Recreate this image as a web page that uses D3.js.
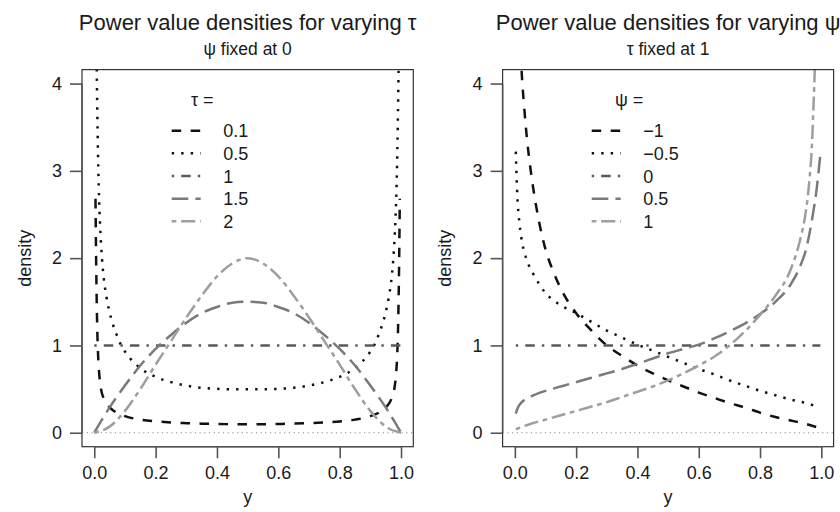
<!DOCTYPE html>
<html><head><meta charset="utf-8">
<script src="https://cdn.jsdelivr.net/npm/d3@7"></script>
<style>
body{margin:0;background:#fff}
svg{display:block}
text{font-family:"Liberation Sans",Arial,Helvetica,sans-serif;fill:#1a1a1a}
</style>
</head><body>
<svg id="c" width="840" height="512"></svg>
<script>
// ---------- data ----------
const xTicks = [0, 0.2, 0.4, 0.6, 0.8, 1.0];
const yTicks = [0, 1, 2, 3, 4];
const tauLabels = ["0.1", "0.5", "1", "1.5", "2"];
const psiLabels = ["\u22121", "\u22120.5", "0", "0.5", "1"];

// left panel: psi = 0, varying tau  ([y, density])
const tau01 = [[0.004,2.68],[0.006,2.0],[0.008,1.5],[0.01,1.15],[0.013,0.85],[0.017,0.64],[0.022,0.5],[0.03,0.4],[0.04,0.33],[0.05,0.29],[0.07,0.235],[0.1,0.19],[0.15,0.15],[0.2,0.13],[0.25,0.118],[0.3,0.11],[0.35,0.104],[0.4,0.1],[0.45,0.098],[0.5,0.097],[0.55,0.098],[0.6,0.1],[0.65,0.104],[0.7,0.11],[0.75,0.118],[0.8,0.13],[0.85,0.15],[0.9,0.19],[0.93,0.235],[0.95,0.29],[0.96,0.33],[0.97,0.4],[0.978,0.5],[0.983,0.64],[0.987,0.85],[0.99,1.15],[0.992,1.5],[0.994,2.0],[0.996,2.68]];
const tau05 = [[0.006,4.6],[0.008,4.15],[0.01,3.65],[0.013,3.05],[0.016,2.65],[0.02,2.3],[0.025,2.0],[0.03,1.8],[0.04,1.55],[0.05,1.38],[0.06,1.25],[0.07,1.15],[0.085,1.02],[0.1,0.93],[0.125,0.82],[0.15,0.74],[0.2,0.64],[0.25,0.58],[0.3,0.54],[0.35,0.515],[0.4,0.503],[0.45,0.498],[0.5,0.497],[0.55,0.498],[0.6,0.503],[0.65,0.515],[0.7,0.54],[0.75,0.58],[0.8,0.64],[0.85,0.74],[0.875,0.82],[0.9,0.93],[0.915,1.02],[0.93,1.15],[0.94,1.25],[0.95,1.38],[0.96,1.55],[0.97,1.8],[0.975,2.0],[0.98,2.3],[0.984,2.65],[0.987,3.05],[0.99,3.65],[0.992,4.15],[0.994,4.6]];
const tau1 = [[0,1],[1,1]];
const tau15 = [[0,0],[0.05,0.29],[0.1,0.54],[0.15,0.77],[0.2,0.96],[0.25,1.12],[0.3,1.26],[0.35,1.37],[0.4,1.44],[0.45,1.49],[0.5,1.5],[0.55,1.49],[0.6,1.44],[0.65,1.37],[0.7,1.26],[0.75,1.12],[0.8,0.96],[0.85,0.77],[0.9,0.54],[0.95,0.29],[1,0]];
const tau2 = [[0,0],[0.05,0.07],[0.1,0.25],[0.15,0.5],[0.2,0.78],[0.25,1.05],[0.3,1.32],[0.35,1.57],[0.4,1.79],[0.45,1.94],[0.5,2.0],[0.55,1.94],[0.6,1.79],[0.65,1.57],[0.7,1.32],[0.75,1.05],[0.8,0.78],[0.85,0.5],[0.9,0.25],[0.95,0.07],[1,0]];

// right panel: tau = 1, varying psi
const psiM1 = [[0.015,4.8],[0.022,4.15],[0.03,3.75],[0.04,3.35],[0.05,3.05],[0.06,2.8],[0.08,2.4],[0.1,2.1],[0.125,1.85],[0.15,1.65],[0.2,1.37],[0.25,1.17],[0.3,1.0],[0.35,0.88],[0.4,0.77],[0.45,0.68],[0.5,0.6],[0.55,0.53],[0.6,0.46],[0.65,0.4],[0.7,0.34],[0.75,0.29],[0.8,0.23],[0.85,0.18],[0.9,0.14],[0.95,0.1],[0.997,0.05]];
const psiM05 = [[0.003,3.22],[0.008,2.72],[0.015,2.4],[0.025,2.16],[0.04,1.97],[0.06,1.82],[0.08,1.7],[0.1,1.6],[0.125,1.52],[0.15,1.46],[0.2,1.37],[0.25,1.27],[0.3,1.17],[0.35,1.09],[0.4,1.01],[0.45,0.94],[0.5,0.87],[0.55,0.8],[0.6,0.73],[0.65,0.67],[0.7,0.6],[0.75,0.54],[0.8,0.48],[0.85,0.43],[0.9,0.38],[0.95,0.34],[0.985,0.3]];
const psi0 = [[0.003,1],[0.997,1]];
const psi05 = [[0.003,0.22],[0.01,0.29],[0.02,0.34],[0.05,0.41],[0.1,0.48],[0.15,0.53],[0.2,0.58],[0.25,0.63],[0.3,0.68],[0.35,0.73],[0.4,0.79],[0.45,0.85],[0.5,0.91],[0.55,0.96],[0.6,1.01],[0.65,1.08],[0.7,1.16],[0.75,1.25],[0.8,1.36],[0.85,1.5],[0.9,1.7],[0.93,1.9],[0.95,2.1],[0.97,2.45],[0.985,2.8],[0.997,3.2]];
const psi1 = [[0.003,0.04],[0.05,0.1],[0.1,0.15],[0.15,0.2],[0.2,0.25],[0.25,0.3],[0.3,0.35],[0.35,0.41],[0.4,0.47],[0.45,0.53],[0.5,0.6],[0.55,0.68],[0.6,0.77],[0.65,0.87],[0.7,1.0],[0.75,1.16],[0.8,1.35],[0.85,1.57],[0.9,1.87],[0.93,2.2],[0.95,2.55],[0.96,2.85],[0.97,3.35],[0.975,3.8],[0.98,4.3]];

// ---------- styles ----------
const lineStyles = [
  {color:"#111111", dash:"9.5,9.5"},
  {color:"#111111", dash:"2.4,7.1"},
  {color:"#5a5a5a", dash:"2.4,7.1,9.5,7.1"},
  {color:"#7a7a7a", dash:"16.6,7.1"},
  {color:"#9e9e9e", dash:"4.7,4.7,14.2,4.7"}
];
const LW = 2.5;
const FS = 18;

const svg = d3.select("#c");
const plotTop = 69.6, plotBottom = 446.7;

function panel(cfg){
  const g = svg.append("g");
  const x = d3.scaleLinear().domain([-0.04, 1.04]).range([cfg.left, cfg.right]);
  const y = d3.scaleLinear().domain([-0.16, 4.16]).range([plotBottom, plotTop]);
  const cx = (cfg.left + cfg.right) / 2;

  const clipId = "clip" + cfg.id;
  svg.append("defs").append("clipPath").attr("id", clipId)
    .append("rect").attr("x", cfg.left).attr("y", plotTop)
    .attr("width", cfg.right - cfg.left).attr("height", plotBottom - plotTop);

  // zero reference line
  g.append("line").attr("x1", cfg.left).attr("x2", cfg.right)
    .attr("y1", y(0)).attr("y2", y(0))
    .attr("stroke", "#8c8c8c").attr("stroke-width", 1.2)
    .attr("stroke-dasharray", "1.2,3.5");

  const line = d3.line().x(d => x(d[0])).y(d => y(d[1])).curve(d3.curveMonotoneX);
  const lines = g.append("g").attr("clip-path", `url(#${clipId})`);
  cfg.series.forEach((s, i) => {
    lines.append("path").datum(s).attr("d", line)
      .attr("fill", "none").attr("stroke", lineStyles[i].color)
      .attr("stroke-width", LW).attr("stroke-dasharray", lineStyles[i].dash)
      .attr("stroke-linecap", "butt");
  });

  // box
  g.append("rect").attr("x", cfg.left).attr("y", plotTop)
    .attr("width", cfg.right - cfg.left).attr("height", plotBottom - plotTop)
    .attr("fill", "none").attr("stroke", "#333").attr("stroke-width", 1.2);

  // axes
  const ax = g.append("g").attr("transform", `translate(0,${plotBottom})`)
    .call(d3.axisBottom(x).tickValues(xTicks).tickFormat(d3.format(".1f"))
      .tickSize(11.5).tickSizeOuter(0).tickPadding(8.5));
  const ay = g.append("g").attr("transform", `translate(${cfg.left},0)`)
    .call(d3.axisLeft(y).tickValues(yTicks).tickFormat(d3.format("d"))
      .tickSize(12).tickSizeOuter(0).tickPadding(8));
  [ax, ay].forEach(a => {
    a.select(".domain").remove();
    a.selectAll(".tick line").attr("stroke", "#555").attr("stroke-width", 1.6);
    a.selectAll(".tick text").attr("font-size", FS).attr("fill", "#1a1a1a")
      .attr("font-family", '"Liberation Sans",Arial,sans-serif');
  });
  g.append("line").attr("x1", x(0)).attr("x2", x(1)).attr("y1", plotBottom).attr("y2", plotBottom)
    .attr("stroke", "#555").attr("stroke-width", 1.6);
  g.append("line").attr("x1", cfg.left).attr("x2", cfg.left).attr("y1", y(0)).attr("y2", y(4))
    .attr("stroke", "#555").attr("stroke-width", 1.6);

  // titles & labels
  g.append("text").attr("x", cx).attr("y", 29.5).attr("text-anchor", "middle")
    .attr("font-size", 22).text(cfg.title);
  g.append("text").attr("x", cx).attr("y", 55).attr("text-anchor", "middle")
    .attr("font-size", 17.5).text(cfg.subtitle);
  g.append("text").attr("x", cx).attr("y", 503).attr("text-anchor", "middle")
    .attr("font-size", FS).text("y");
  g.append("text").attr("transform", `translate(${cfg.left - 51.5},${(plotTop + plotBottom) / 2}) rotate(-90)`)
    .attr("text-anchor", "middle").attr("font-size", FS).text("density");

  // legend
  const rowY = [130.7, 153.3, 176, 198.7, 221.3];
  g.append("text").attr("x", cfg.legTitleX).attr("y", 105.5).attr("font-size", FS).text(cfg.legTitle);
  cfg.labels.forEach((lab, i) => {
    g.append("line").attr("x1", cfg.legX0).attr("x2", cfg.legX0 + 29)
      .attr("y1", rowY[i]).attr("y2", rowY[i])
      .attr("stroke", lineStyles[i].color).attr("stroke-width", LW)
      .attr("stroke-dasharray", lineStyles[i].dash);
    g.append("text").attr("x", cfg.legX0 + 51.5).attr("y", rowY[i] + 6.5)
      .attr("font-size", FS).text(lab);
  });
}

panel({id: 1, left: 82, right: 413.3,
  title: "Power value densities for varying \u03c4", subtitle: "\u03c8 fixed at 0",
  legTitle: "\u03c4 =", legTitleX: 191, legX0: 171.7, labels: tauLabels,
  series: [tau01, tau05, tau1, tau15, tau2]});
panel({id: 2, left: 502.6, right: 833.6,
  title: "Power value densities for varying \u03c8", subtitle: "\u03c4 fixed at 1",
  legTitle: "\u03c8 =", legTitleX: 615, legX0: 591.7, labels: psiLabels,
  series: [psiM1, psiM05, psi0, psi05, psi1]});
</script>
</body></html>
